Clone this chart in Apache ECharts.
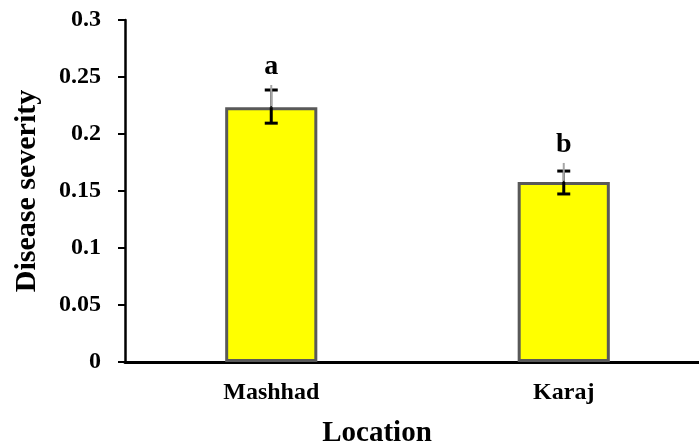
<!DOCTYPE html>
<html><head><meta charset="utf-8">
<script src="https://cdn.jsdelivr.net/npm/echarts@6/dist/echarts.min.js"></script>
<style>html,body{margin:0;padding:0;background:#fff}#c{width:699px;height:448px}</style>
</head><body><div id="c"></div>
<script>
var categories = ['Mashhad', 'Karaj'];
var severity = [0.2235, 0.158];
var errLow = [0.2095, 0.1474];
var errHigh = [0.2386, 0.1675];
var grayHigh = [0.243, 0.1746];
var letters = ['a', 'b'];
var yTicks = [0, 0.05, 0.1, 0.15, 0.2, 0.25, 0.3];

var FONT = '"Liberation Serif","Times New Roman",serif';
var chart = echarts.init(document.getElementById('c'));
var errData = categories.map(function (c, i) { return [i, errLow[i], errHigh[i], grayHigh[i], severity[i]]; });

chart.setOption({
  animation: false,
  grid: { left: 125, top: 20, bottom: 86, right: -11, containLabel: false, outerBoundsMode: 'none' },
  xAxis: {
    type: 'category', data: categories,
    axisLine: { lineStyle: { color: '#000', width: 3 } },
    axisTick: { show: false },
    axisLabel: { margin: 19, fontFamily: FONT, fontWeight: 'bold', fontSize: 24, color: '#000' }
  },
  yAxis: {
    type: 'value', min: 0, max: 0.3, interval: 0.05,
    name: 'Disease severity', nameLocation: 'middle', nameGap: 83,
    nameTextStyle: { fontFamily: FONT, fontWeight: 'bold', fontSize: 30, color: '#000' },
    splitLine: { show: false },
    axisLine: { show: true, lineStyle: { color: '#000', width: 2.5 } },
    axisTick: { show: true, length: 7, lineStyle: { color: '#000', width: 2 } },
    axisLabel: {
      margin: 24, fontFamily: FONT, fontWeight: 'bold', fontSize: 24, color: '#000',
      formatter: function (v) {
        for (var k = 0; k < yTicks.length; k++) { if (Math.abs(yTicks[k] - v) < 1e-9) return String(yTicks[k]); }
        return '';
      }
    }
  },
  graphic: [{
    type: 'text', x: 377, y: 434,
    style: { text: 'Location', font: 'bold 29px ' + FONT, fill: '#000', align: 'center', verticalAlign: 'middle' }
  }],
  series: [{
    type: 'bar', data: severity, barWidth: '31.5%',
    itemStyle: { color: '#FFFF00', borderColor: '#595959', borderWidth: 3 },
    z: 2
  }, {
    type: 'custom', data: errData, z: 5,
    renderItem: function (params, api) {
      var x = api.coord([api.value(0), 0])[0];
      var lo = api.coord([api.value(0), api.value(1)])[1];
      var hi = api.coord([api.value(0), api.value(2)])[1];
      var gh = api.coord([api.value(0), api.value(3)])[1];
      var top = api.coord([api.value(0), api.value(4)])[1];
      var hw = 6.5;
      var idx = params.dataIndex;
      return {
        type: 'group',
        children: [
          { type: 'line', shape: { x1: x, y1: lo, x2: x, y2: top }, style: { stroke: '#000', lineWidth: 3 } },
          { type: 'line', shape: { x1: x - hw, y1: lo, x2: x + hw, y2: lo }, style: { stroke: '#000', lineWidth: 3 } },
          { type: 'line', shape: { x1: x - hw, y1: hi, x2: x + hw, y2: hi }, style: { stroke: '#000', lineWidth: 3 } },
          { type: 'line', shape: { x1: x, y1: hi, x2: x, y2: top }, style: { stroke: '#000', lineWidth: 2 } },
          { type: 'line', shape: { x1: x, y1: gh, x2: x, y2: top - 1 }, style: { stroke: '#a6a6a6', lineWidth: 2 } },
          { type: 'text', x: x, y: gh - 18, style: { text: letters[idx], font: 'bold 28px ' + FONT, fill: '#000', align: 'center', verticalAlign: 'middle' } }
        ]
      };
    }
  }]
});
</script></body></html>
